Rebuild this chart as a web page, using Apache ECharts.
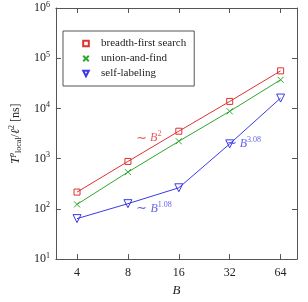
<!DOCTYPE html>
<html><head><meta charset="utf-8">
<script src="https://cdn.jsdelivr.net/npm/echarts@6/dist/echarts.min.js"></script>
<style>html,body{margin:0;padding:0;background:#fff}#c{width:308px;height:302px}</style>
</head><body><div id="c"></div>
<script>
const B = [4, 8, 16, 32, 64];
const bfs = [216, 880, 3520, 13800, 56000];
const uaf = [123, 540, 2220, 8770, 37200];
const selfLab = [64, 127, 263, 1970, 16100];
const seriesNames = ['breadth-first search', 'union-and-find', 'self-labeling'];
const xTicks = [4, 8, 16, 32, 64];
const annotations = [
  {text: '∼ {it|B}{sup|2}', x: 10.6, y: 2550, color: '#e03131'},
  {text: '∼ {it|B}{sup|3.08}', x: 38.5, y: 2000, color: '#3a3ae6'},
  {text: '∼ {it|B}{sup|1.08}', x: 11.4, y: 100, color: '#3a3ae6'}
];

const RED = '#e03131', GREEN = '#2ea82e', BLUE = '#3a3ae6';
const FONT = 'Liberation Serif';
const pts = arr => B.map((b, i) => [b, arr[i]]);
const xSym = 'path://M0,0L10,10M10,0L0,10';
const triSym = 'path://M0,0L10,0L5,9Z';

function mkSeries(name, data, color, symbol, size) {
  return {
    name, type: 'line', data: pts(data), symbol, symbolSize: size,
    lineStyle: {color, width: 1},
    itemStyle: {color: 'rgba(0,0,0,0)', borderColor: color, borderWidth: 1},
    emphasis: {disabled: true}, animation: false, z: 3
  };
}

const annSeries = {
  type: 'scatter', symbolSize: 0, silent: true, animation: false, z: 5,
  data: annotations.map(a => ({
    value: [a.x, a.y],
    label: {
      show: true, position: 'inside', formatter: a.text, color: a.color,
      fontFamily: FONT, fontSize: 13,
      rich: {
        it: {fontFamily: FONT, fontStyle: 'italic', fontSize: 12, color: a.color},
        sup: {fontFamily: FONT, fontSize: 8, color: a.color, padding: [0,0,8,0]}
      }
    }
  }))
};

const xCommon = {
  type: 'log', logBase: 2, min: 3, max: 80,
  axisLine: {lineStyle: {color: '#555', width: 1}},
  axisTick: {inside: true, length: 5, lineStyle: {color: '#555'}},
  splitLine: {show: false}, minorTick: {show: false}
};
const yCommon = {
  type: 'log', logBase: 10, min: 10, max: 1e6,
  axisLine: {lineStyle: {color: '#555', width: 1}},
  axisTick: {inside: true, length: 5, lineStyle: {color: '#555'}},
  splitLine: {show: false}, minorTick: {show: false}
};

const chart = echarts.init(document.getElementById('c'), null, {renderer: 'canvas'});
chart.setOption({
  backgroundColor: '#fff',
  animation: false,
  grid: {left: 45, right: 11, top: 8, bottom: 42, containLabel: false},
  legend: {
    data: seriesNames, left: 63, top: 31, orient: 'vertical',
    backgroundColor: '#fff', borderColor: '#555', borderWidth: 1,
    padding: [7, 8, 7, 19], itemGap: 4, itemWidth: 8, itemHeight: 7,
    textStyle: {fontFamily: FONT, fontSize: 11, color: '#222', padding: [0,0,0,6]},
    lineStyle: {width: 0, opacity: 0},
    selectedMode: false
  },
  xAxis: [
    Object.assign({}, xCommon, {
      position: 'bottom',
      name: 'B', nameLocation: 'middle', nameGap: 24,
      nameTextStyle: {fontFamily: FONT, fontStyle: 'italic', fontSize: 13, color: '#222'},
      axisLabel: {
        fontFamily: FONT, fontSize: 12, color: '#222', margin: 8,
        formatter: v => xTicks.includes(Math.round(v)) && Math.abs(v - Math.round(v)) < 1e-6 ? String(Math.round(v)) : ''
      }
    }),
    Object.assign({}, xCommon, {position: 'top', axisLabel: {show: false}})
  ],
  yAxis: [
    Object.assign({}, yCommon, {
      position: 'left',
      name: '{it|T}{sup|p}{sub|local}/{it|ℓ}{sup2|2} [ns]',
      nameLocation: 'middle', nameGap: 31, nameRotate: 90,
      nameTextStyle: {
        fontFamily: FONT, fontSize: 12, color: '#222',
        rich: {
          it: {fontFamily: FONT, fontStyle: 'italic', fontSize: 12, color: '#222'},
          sup: {fontFamily: FONT, fontStyle: 'italic', fontSize: 8, color: '#222', padding: [0,0,8,0]},
          sup2: {fontFamily: FONT, fontSize: 8, color: '#222', padding: [0,0,8,0]},
          sub: {fontFamily: FONT, fontSize: 8, color: '#222', padding: [6,0,0,0]}
        }
      },
      axisLabel: {
        fontFamily: FONT, fontSize: 12, color: '#222', margin: 6,
        formatter: v => '10{sup|' + Math.round(Math.log10(v)) + '}',
        rich: {sup: {fontFamily: FONT, fontSize: 8, color: '#222', padding: [0,0,7,0]}}
      }
    }),
    Object.assign({}, yCommon, {position: 'right', axisLabel: {show: false}})
  ],
  series: [
    mkSeries(seriesNames[0], bfs, RED, 'rect', 6),
    mkSeries(seriesNames[1], uaf, GREEN, xSym, 6),
    mkSeries(seriesNames[2], selfLab, BLUE, triSym, 8),
    annSeries
  ]
});
</script></body></html>
